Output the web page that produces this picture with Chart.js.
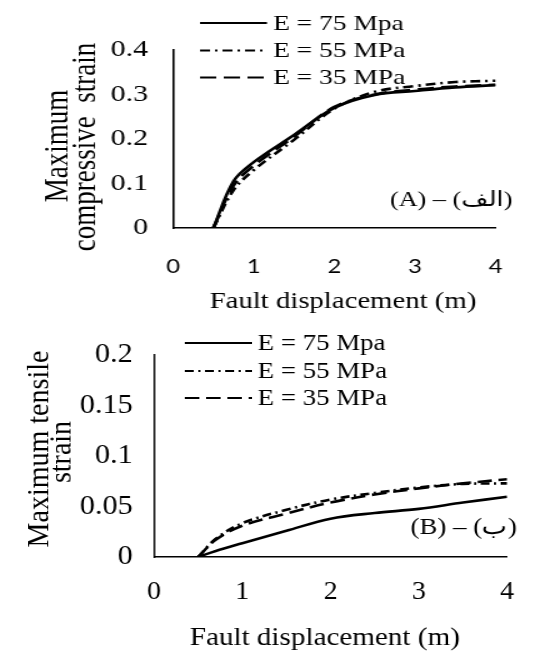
<!DOCTYPE html>
<html>
<head>
<meta charset="utf-8">
<script src="https://cdn.jsdelivr.net/npm/chart.js@4/dist/chart.umd.min.js"></script>
<style>
  html, body { margin: 0; padding: 0; background: #fff; }
  body { width: 536px; height: 655px; position: relative; overflow: hidden; }
  .wrap { position: absolute; left: 0; transform-origin: 0 0; }
  #wrapA { top: 0; width: 429px; height: 320px; transform: scaleX(1.25); }
  #wrapB { top: 320px; width: 479px; height: 335px; transform: scaleX(1.12); }
  canvas { display: block; }
</style>
</head>
<body>
<div class="wrap" id="wrapA"><canvas id="cA" width="429" height="320"></canvas></div>
<div class="wrap" id="wrapB"><canvas id="cB" width="479" height="335"></canvas></div>
<script>
// ---------- DATA ----------
const seriesNames = ['E = 75 Mpa', 'E = 55 MPa', 'E = 35 MPa'];

// Panel A: maximum compressive strain
const dispA = [0.5, 0.75, 1, 1.5, 2, 2.5, 3, 3.5, 4];
const compE75 = [0, 0.105, 0.148, 0.209, 0.270, 0.299, 0.308, 0.316, 0.321];
const compE55 = [0, 0.085, 0.130, 0.198, 0.268, 0.306, 0.319, 0.328, 0.331];
const compE35 = [0, 0.095, 0.140, 0.205, 0.272, 0.300, 0.311, 0.318, 0.322];
const yTicksA = ['0', '0.1', '0.2', '0.3', '0.4'];
const xTicksA = ['0', '1', '2', '3', '4'];

// Panel B: maximum tensile strain
const dispB = [0.5, 0.7, 1, 1.5, 2, 2.5, 3, 3.5, 4];
const tensE75 = [0, 0.006, 0.0136, 0.026, 0.038, 0.0436, 0.0477, 0.054, 0.0597];
const tensE55 = [0, 0.018, 0.0335, 0.0468, 0.057, 0.0635, 0.069, 0.0724, 0.073];
const tensE35 = [0, 0.017, 0.031, 0.043, 0.054, 0.062, 0.068, 0.073, 0.077];
const yTicksB = ['0', '0.05', '0.1', '0.15', '0.2'];
const xTicksB = ['0', '1', '2', '3', '4'];

const xTitle = 'Fault displacement (m)';
const yTitleA = ['Maximum', 'compressive  strain'];
const yTitleB = ['Maximum tensile', 'strain'];
const tagA = '(A) – (الف)';
const tagB = '(B) – (ب)';

// ---------- HELPERS ----------
const SERIF = '"Liberation Serif", "Times New Roman", serif';
const dashes = [[], [8, 4, 2, 4], [13, 6]];

function pts(xs, ys) { return xs.map((x, i) => ({ x: x, y: ys[i] })); }

function makeDatasets(xs, arrs, lw) {
  return arrs.map((ys, i) => ({
    label: seriesNames[i],
    data: pts(xs, ys),
    borderColor: '#000',
    backgroundColor: '#000',
    borderWidth: lw,
    borderDash: dashes[i],
    pointRadius: 0,
    fill: false,
    tension: 0.35
  }));
}

const decor = {
  id: 'decor',
  afterDraw(chart) {
    const o = chart.options.plugins.decor;
    const ctx = chart.ctx;
    ctx.save();
    ctx.fillStyle = '#000';
    ctx.strokeStyle = '#000';
    // legend
    chart.data.datasets.forEach((ds, i) => {
      const y = o.legY[i];
      ctx.beginPath();
      ctx.lineWidth = o.legLW;
      ctx.setLineDash(ds.borderDash || []);
      ctx.moveTo(o.legX0, y);
      ctx.lineTo(o.legX1, y);
      ctx.stroke();
      ctx.setLineDash([]);
      ctx.font = o.legFont;
      ctx.textAlign = 'left';
      ctx.textBaseline = 'middle';
      ctx.fillText(ds.label, o.legTX, y + 1);
    });
    // x title
    ctx.font = o.xtFont;
    ctx.textAlign = 'center';
    ctx.textBaseline = 'middle';
    ctx.fillText(o.xTitle, o.xtX, o.xtY);
    // y title (rotated)
    ctx.font = o.ytFont;
    o.yTitle.forEach((t, i) => {
      ctx.save();
      ctx.translate(o.ytX[i], o.ytY[i]);
      ctx.rotate(-Math.PI / 2);
      ctx.textAlign = 'center';
      ctx.textBaseline = 'alphabetic';
      ctx.fillText(t, 0, 0);
      ctx.restore();
    });
    // panel tag
    ctx.font = o.tagFont;
    ctx.textAlign = 'center';
    ctx.textBaseline = 'middle';
    ctx.direction = 'ltr';
    ctx.fillText(o.tag, o.tagX, o.tagY);
    ctx.restore();
  }
};

function makeChart(canvasId, cfg) {
  return new Chart(document.getElementById(canvasId), {
    type: 'line',
    data: { datasets: makeDatasets(cfg.xs, cfg.series, cfg.lw) },
    options: {
      responsive: false,
      animation: false,
      events: [],
      layout: { padding: { top: cfg.padTop, right: cfg.padRight, left: 0, bottom: 0 } },
      plugins: {
        legend: { display: false },
        tooltip: { enabled: false },
        decor: cfg.decor
      },
      scales: {
        x: {
          type: 'linear',
          min: 0, max: 4,
          afterFit(s) { s.height = cfg.xH; },
          grid: { display: false, drawTicks: false },
          border: { display: true, color: '#000', width: 1.6 },
          ticks: {
            stepSize: 1,
            padding: cfg.xPad,
            color: '#000',
            maxRotation: 0,
            font: cfg.xFont,
            callback: (v, i) => cfg.xTicks[i]
          }
        },
        y: {
          min: 0, max: cfg.yMax,
          afterFit(s) { s.width = cfg.yW; },
          grid: { display: false, drawTicks: false },
          border: { display: true, color: '#000', width: 1.6 },
          ticks: {
            stepSize: cfg.yStep,
            padding: cfg.yPad,
            color: '#000',
            font: cfg.yFont,
            callback: (v, i) => cfg.yTicks[i]
          }
        }
      }
    },
    plugins: [decor]
  });
}

// Panel A
makeChart('cA', {
  xs: dispA, series: [compE75, compE55, compE35], lw: 2.6,
  padTop: 50, padRight: 30.6, xH: 92, yW: 138.4,
  xPad: 27, yPad: 20, yMax: 0.4, yStep: 0.1,
  xTicks: xTicksA, yTicks: yTicksA,
  xFont: { family: 'Lato, "Open Sans", sans-serif', size: 19 },
  yFont: { family: SERIF, size: 24 },
  decor: {
    legX0: 160, legX1: 213.6, legTX: 218.4, legY: [23, 50.5, 77.5], legLW: 2.2,
    legFont: '22px ' + SERIF,
    xTitle: xTitle, xtX: 274.4, xtY: 302, xtFont: '23px ' + SERIF,
    yTitle: yTitleA, ytX: [54, 76], ytY: [146, 147], ytFont: '27px ' + SERIF,
    tag: tagA, tagX: 361, tagY: 200, tagFont: '21px ' + SERIF
  }
});

// Panel B
makeChart('cB', {
  xs: dispB, series: [tensE75, tensE55, tensE35], lw: 2.6,
  padTop: 26, padRight: 24.5, xH: 98, yW: 137.5,
  xPad: 20, yPad: 19, yMax: 0.2, yStep: 0.05,
  xTicks: xTicksB, yTicks: yTicksB,
  xFont: { family: SERIF, size: 25 },
  yFont: { family: SERIF, size: 27 },
  decor: {
    legX0: 165, legX1: 225, legTX: 230, legY: [23, 51, 78], legLW: 2.2,
    legFont: '24px ' + SERIF,
    xTitle: xTitle, xtX: 290, xtY: 318, xtFont: '26px ' + SERIF,
    yTitle: yTitleB, ytX: [43, 62.5], ytY: [129, 132], ytFont: '28px ' + SERIF,
    tag: tagB, tagX: 414, tagY: 208, tagFont: '24px ' + SERIF
  }
});
</script>
</body>
</html>
